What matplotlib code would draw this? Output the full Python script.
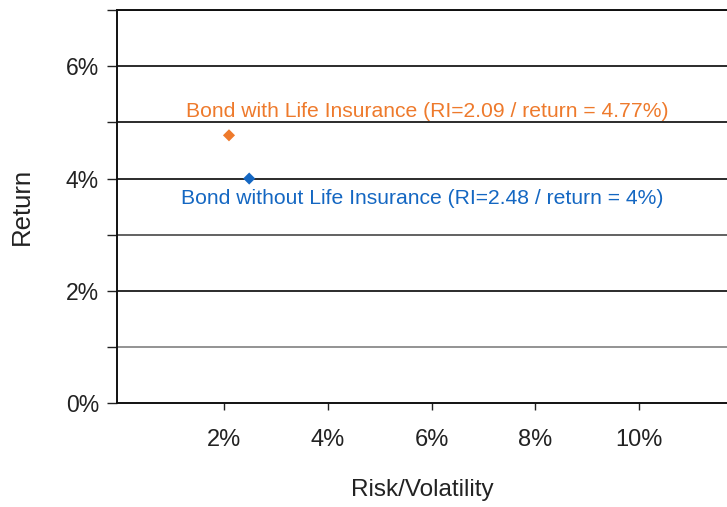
import matplotlib
matplotlib.use("Agg")
import matplotlib.pyplot as plt
from matplotlib.ticker import FuncFormatter

plt.rcParams['font.family'] = ['Liberation Sans', 'DejaVu Sans']

# Data
names = ["Bond with Life Insurance", "Bond without Life Insurance"]
risk = [2.09, 2.48]          # % volatility
ret = [4.77, 4.00]           # % return
labels = ["Bond with Life Insurance (RI=2.09 / return = 4.77%)",
          "Bond without Life Insurance (RI=2.48 / return = 4%)"]
colors = ["#EE7A2C", "#1467C2"]
label_pos = [(5.91, 5.2), (5.81, 3.64)]

x_ticks = [2, 4, 6, 8, 10]
y_ticks = [0, 2, 4, 6]
y_minor = [1, 3, 5, 7]

fig = plt.figure(figsize=(7.27, 5.07), dpi=100)
ax = fig.add_axes([0.161, 0.205, 0.839, 0.775])

ax.set_xlim(-0.07, 11.7)
ax.set_ylim(0, 7)

# gridlines every 1%
for y in [1, 2, 3, 4, 5, 6, 7]:
    c = '#8a8a8a' if y == 1 else ('#555555' if y == 3 else '#1a1a1a')
    ax.axhline(y, color=c, lw=1.3, zorder=1)

for xi, yi, col, lab, (tx, ty) in zip(risk, ret, colors, labels, label_pos):
    ax.scatter([xi], [yi], marker='D', s=38, color=col, zorder=3, edgecolors='none')
    ax.text(tx, ty, lab, color=col, fontsize=15.2, ha='center', va='center', zorder=4)

ax.set_xticks(x_ticks)
ax.set_yticks(y_ticks)
ax.set_yticks(y_minor, minor=True)
fmt = FuncFormatter(lambda v, p: f"{v:g}%")
ax.xaxis.set_major_formatter(fmt)
ax.yaxis.set_major_formatter(fmt)

ax.tick_params(axis='x', direction='out', length=5, width=1, colors='#222222',
               labelsize=17, pad=14, labelcolor='#222222')
ax.tick_params(axis='y', which='both', direction='out', length=7, width=1,
               colors='#222222', labelsize=16.5, pad=6, labelcolor='#222222')

for s in ['left', 'bottom', 'top']:
    ax.spines[s].set_color('#111111')
    ax.spines[s].set_linewidth(1.4)
ax.spines['right'].set_visible(False)

ax.set_xlabel("Risk/Volatility", fontsize=17.5, color='#222222', labelpad=20)
ax.set_ylabel("Return", fontsize=18.5, color='#222222', labelpad=23)

fig.savefig("out.png", dpi=100)
